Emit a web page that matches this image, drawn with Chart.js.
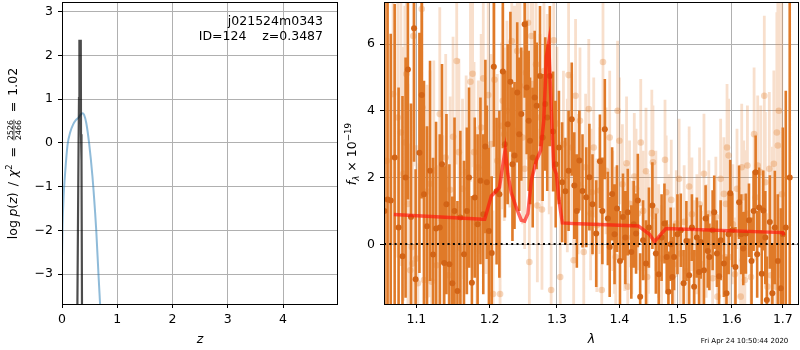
<!DOCTYPE html>
<html>
<head>
<meta charset="utf-8">
<script src="https://cdn.jsdelivr.net/npm/chart.js@4/dist/chart.umd.min.js"></script>
<style>
  html, body { margin: 0; padding: 0; background: #fff; }
  #wrap { position: relative; width: 800px; height: 350px; }
  #pz { position: absolute; left: 0; top: 0; }
  #spec { position: absolute; left: 340px; top: 0; }
</style>
</head>
<body>
<div id="wrap">
  <canvas id="pz" width="340" height="350" style="width:340px;height:350px"></canvas>
  <canvas id="spec" width="460" height="350" style="width:460px;height:350px"></canvas>
</div>
<script>
/* ---------- left panel: p(z) ---------- */
const pzZ    = [0, 0.01, 0.03, 0.05, 0.1, 0.15, 0.2, 0.25, 0.3, 0.34, 0.37, 0.4, 0.44, 0.49, 0.55, 0.6, 0.62, 0.66, 0.69, 0.72];
const pzLogp = [-2.6, -1.9, -1.2, -0.8, -0.05, 0.25, 0.42, 0.52, 0.58, 0.65, 0.68, 0.64, 0.45, 0.0, -0.75, -1.6, -2.0, -3.0, -3.7, -4.3];
const spikeZ    = [0.278, 0.300, 0.308, 0.312, 0.318, 0.340, 0.344, 0.350, 0.356, 0.362];
const spikeLogp = [-3.8, 0.0, 1.05, 0.6, 2.33, 2.33, 0.2, -0.4, -0.4, -3.8];
const zTicks  = [0, 1, 2, 3, 4];
const pzTicks = [-3, -2, -1, 0, 1, 2, 3];

/* ---------- right panel: spectrum ---------- */
const darkWave = [
  1.059, 1.063, 1.067, 1.072, 1.077, 1.082, 1.086, 1.089, 1.093, 1.097,
  1.099, 1.104, 1.107, 1.110, 1.114, 1.118, 1.122, 1.126, 1.131, 1.134,
  1.137, 1.140, 1.144, 1.148, 1.151, 1.155, 1.159, 1.164, 1.168, 1.171,
  1.175, 1.179, 1.183, 1.187, 1.191, 1.194, 1.196, 1.199, 1.203, 1.206,
  1.210, 1.214, 1.219, 1.222, 1.226, 1.230, 1.233, 1.236, 1.240, 1.243,
  1.246, 1.251, 1.254, 1.257, 1.259, 1.263, 1.266, 1.269, 1.274, 1.278,
  1.282, 1.285, 1.289, 1.294, 1.298, 1.303, 1.308, 1.313, 1.318, 1.323,
  1.327, 1.331, 1.335, 1.340, 1.346, 1.351, 1.356, 1.362, 1.368, 1.372,
  1.376, 1.381, 1.384, 1.388, 1.392, 1.396, 1.401, 1.406, 1.410, 1.414,
  1.420, 1.424, 1.428, 1.431, 1.435, 1.440, 1.445, 1.450, 1.456, 1.462,
  1.467, 1.472, 1.477, 1.481, 1.484, 1.488, 1.491, 1.494, 1.500, 1.506,
  1.511, 1.516, 1.521, 1.526, 1.530, 1.535, 1.539, 1.542, 1.548, 1.551,
  1.555, 1.558, 1.564, 1.567, 1.572, 1.576, 1.579, 1.585, 1.590, 1.594,
  1.597, 1.601, 1.607, 1.614, 1.618, 1.622, 1.627, 1.633, 1.638, 1.642,
  1.646, 1.649, 1.653, 1.658, 1.661, 1.665, 1.668, 1.674, 1.679, 1.684,
  1.690, 1.696, 1.700, 1.706, 1.714
];
const darkFlux = [
  1.0, 1.34, 1.31, 2.6, 0.5, -0.36, 2.0, 5.24, 0.82, 6.47,
  -1.05, 2.74, 4.47, 1.5, 0.54, 2.2, -0.31, 0.47, 0.5, 2.4,
  -0.56, 1.2, -0.6, -1.17, 1.0, -1.4, 0.8, -0.3, 1.0, 2.0,
  -1.15, 1.4, 0.6, 1.9, 0.9, 2.93, 1.86, 0.4, -0.26, 5.32,
  1.59, 1.5, 5.18, 3.0, 3.6, 4.87, 2.4, 2.66, 4.55, 3.3,
  3.9, 6.59, 4.7, 3.7, 3.1, 2.6, 4.4, 4.15, 5.04, 3.2,
  4.2, 3.8, 5.04, 3.38, 2.4, 2.9, 1.86, 1.59, 2.2, 3.75,
  1.76, 1.0, 2.51, 1.6, 1.41, 2.01, 1.2, 0.32, 2.49, 1.0,
  3.45, 0.77, -0.08, 1.51, 0.3, 1.07, -0.5, 0.82, 0.2, 0.96,
  -0.23, 0.6, 0.32, 1.31, -1.57, 0.12, -0.58, 0.5, 1.16, -0.28,
  -0.9, 0.2, 0.62, -0.38, -1.42, 0.0, -0.98, -0.38, 0.3, 0.42,
  -1.17, 0.1, -0.93, 0.5, -1.27, 0.2, -0.83, 0.07, -0.78, 0.77,
  -0.2, -0.38, 0.42, 0.96, -0.28, -0.96, 0.12, -0.58, -1.47, 0.3,
  1.53, 0.42, -0.68, 1.26, 0.3, -0.13, 0.32, 0.72, -0.5, 1.0,
  2.16, -0.3, 1.1, -0.88, 1.01, 0.2, -1.67, 0.67, -1.47, 0.5,
  -0.5, -1.32, 0.3, 0.5, 2.0
];
const darkErr = [
  10, 10, 5.0, 4.6, 4.2, 4.8, 3.6, 3.9, 3.4, 4.0,
  3.3, 3.6, 3.1, 3.4, 3.0, 3.3, 2.9, 3.2, 2.8, 3.0,
  2.9, 2.7, 3.0, 2.6, 2.8, 2.7, 2.6, 2.8, 2.5, 2.7,
  2.6, 2.4, 2.7, 2.5, 2.4, 2.6, 2.3, 2.5, 2.3, 2.4,
  2.2, 2.5, 2.3, 2.2, 2.4, 2.1, 2.3, 2.2, 2.1, 2.3,
  2.0, 2.2, 2.0, 2.1, 1.9, 2.1, 2.0, 1.9, 2.1, 1.9,
  2.0, 2.2, 2.1, 1.8, 1.9, 1.7, 1.8, 1.6, 1.8, 1.7,
  1.6, 1.7, 1.5, 1.7, 1.5, 1.6, 1.5, 1.6, 1.4, 1.6,
  1.5, 1.4, 1.5, 1.4, 1.5, 1.3, 1.5, 1.3, 1.4, 1.3,
  1.4, 1.3, 1.2, 1.4, 1.3, 1.2, 1.3, 1.2, 1.3, 1.2,
  1.1, 1.3, 1.2, 1.1, 1.2, 1.1, 1.2, 1.0, 1.2, 1.1,
  1.0, 1.2, 1.1, 1.0, 1.1, 1.2, 1.0, 1.1, 1.2, 1.0,
  1.1, 1.0, 1.2, 1.1, 1.0, 1.1, 1.2, 1.0, 1.1, 1.2,
  1.0, 1.1, 1.2, 1.1, 1.2, 1.1, 1.2, 1.1, 1.3, 1.2,
  1.1, 1.3, 1.2, 1.3, 1.2, 1.4, 1.3, 1.4, 1.5, 1.7,
  2.0, 2.4, 3.2, 4.1, 10
];

const lightWave = [
  1.062, 1.070, 1.076, 1.080, 1.083, 1.085, 1.087, 1.089, 1.092, 1.094,
  1.095, 1.096, 1.100, 1.102, 1.107, 1.108, 1.110, 1.114, 1.118, 1.120,
  1.123, 1.127, 1.131, 1.135, 1.139, 1.143, 1.145, 1.149, 1.154, 1.157,
  1.160, 1.162, 1.167, 1.173, 1.176, 1.178, 1.182, 1.184, 1.188, 1.191,
  1.195, 1.198, 1.202, 1.205, 1.207, 1.211, 1.215, 1.217, 1.219, 1.221,
  1.225, 1.229, 1.232, 1.236, 1.238, 1.240, 1.244, 1.248, 1.251, 1.253,
  1.256, 1.258, 1.261, 1.263, 1.268, 1.270, 1.274, 1.277, 1.280, 1.285,
  1.288, 1.291, 1.295, 1.300, 1.305, 1.310, 1.316, 1.318, 1.323, 1.326,
  1.329, 1.333, 1.336, 1.342, 1.345, 1.350, 1.353, 1.355, 1.358, 1.363,
  1.368, 1.371, 1.373, 1.378, 1.384, 1.389, 1.392, 1.394, 1.397, 1.400,
  1.405, 1.409, 1.412, 1.414, 1.417, 1.421, 1.425, 1.428, 1.431, 1.436,
  1.440, 1.445, 1.447, 1.449, 1.455, 1.457, 1.462, 1.467, 1.472, 1.478,
  1.480, 1.485, 1.489, 1.494, 1.498, 1.503, 1.505, 1.512, 1.517, 1.521,
  1.526, 1.530, 1.535, 1.540, 1.544, 1.548, 1.552, 1.557, 1.564, 1.570,
  1.573, 1.579, 1.585, 1.587, 1.589, 1.591, 1.594, 1.596, 1.602, 1.606,
  1.610, 1.615, 1.617, 1.619, 1.621, 1.623, 1.625, 1.627, 1.630, 1.637,
  1.643, 1.646, 1.650, 1.656, 1.663, 1.665, 1.669, 1.673, 1.676, 1.679,
  1.682, 1.686, 1.688, 1.690, 1.692, 1.698
];
const lightFlux = [
  2.5, 4.5, 3.8, 3.35, 2.11, 3.05, 5.1, 1.21, -0.78, -0.08,
  -0.58, 6.24, -0.43, -1.17, 7.05, 4.1, -1.07, 1.58, 1.81, -1.12,
  2.21, -0.63, 3.9, 0.37, 2.6, -0.93, 1.63, 3.22, 5.49, 2.76,
  -0.13, 1.66, 2.16, 4.87, 5.11, 2.76, 0.62, 2.31, 3.5, 4.97,
  1.71, 4.47, 3.0, -1.49, 4.93, 2.5, -1.49, 3.55, 4.3, 3.3,
  4.0, 3.6, 6.09, 4.55, 3.4, 5.79, 4.75, 3.2, 2.26, 5.14,
  6.64, -0.53, 6.24, 4.8, 5.39, 1.16, 3.8, 1.04, 5.19, 4.5,
  3.2, -1.37, 6.11, 3.62, -0.98, 3.0, 2.06, 5.07, 2.9, -0.48,
  4.45, 1.8, 3.7, -0.23, 2.31, 4.05, 0.92, 1.56, 2.9, 0.57,
  1.61, -1.37, 5.46, 2.2, 3.2, 1.0, 0.42, -0.38, 4.0, 3.1,
  1.8, 0.5, 2.43, -1.27, 1.21, 0.2, 2.03, 1.66, 0.92, 3.05,
  1.0, 2.19, -0.98, 0.32, 2.73, 2.46, 1.0, 0.1, -0.43, 2.53,
  1.56, 0.5, 1.33, -0.6, 0.62, 1.96, -0.28, 0.67, -0.8, 1.73,
  0.9, -0.28, 0.3, 1.2, -0.6, 2.11, 0.1, 0.92, -1.02, 0.82,
  -1.57, 1.96, 1.51, -0.38, 1.21, 2.9, 2.66, -0.38, 0.6, -0.9,
  1.66, 0.3, -1.57, 2.31, -0.48, 1.41, -1.07, 0.92, 2.36, -0.98,
  3.3, 1.41, 2.36, 2.16, 4.45, 1.86, -1.27, 2.26, -0.93, 0.42,
  2.41, -1.27, 3.35, 2.96, 4.0, 1.5
];
const lightErr = [
  8, 4.5, 4.2, 4.0, 3.8, 4.1, 3.9, 3.6, 3.8, 3.5,
  3.7, 3.9, 3.4, 3.6, 3.8, 3.3, 3.5, 3.2, 3.4, 3.1,
  3.3, 3.0, 3.2, 2.9, 3.1, 3.0, 2.8, 3.0, 3.1, 2.8,
  2.9, 2.7, 2.9, 3.0, 2.8, 2.7, 2.9, 2.6, 2.8, 2.9,
  2.6, 2.8, 2.7, 2.5, 2.9, 2.6, 2.7, 2.5, 2.8, 2.6,
  2.7, 2.5, 2.8, 2.6, 2.4, 2.7, 2.5, 2.6, 2.4, 2.6,
  2.7, 2.4, 2.6, 2.5, 2.6, 2.3, 2.5, 2.4, 2.6, 2.4,
  2.3, 2.5, 2.4, 2.3, 2.4, 2.2, 2.3, 2.4, 2.2, 2.1,
  2.3, 2.1, 2.2, 2.0, 2.2, 2.1, 2.0, 1.9, 2.1, 2.0,
  1.9, 2.0, 2.1, 1.9, 2.0, 1.8, 1.9, 2.0, 2.1, 1.9,
  1.8, 1.9, 2.0, 1.8, 1.9, 1.7, 1.9, 1.8, 1.7, 1.9,
  1.8, 1.9, 1.7, 1.8, 1.9, 1.7, 1.8, 1.7, 1.6, 1.8,
  1.7, 1.6, 1.8, 1.7, 1.6, 1.8, 1.6, 1.7, 1.6, 1.8,
  1.7, 1.6, 1.8, 1.7, 1.6, 1.8, 1.7, 1.6, 1.7, 1.8,
  1.7, 1.8, 1.7, 1.6, 1.8, 1.9, 1.7, 1.6, 1.8, 1.7,
  1.8, 1.9, 1.7, 1.9, 1.8, 1.7, 1.8, 1.9, 1.8, 1.9,
  2.0, 1.9, 2.1, 2.0, 2.4, 2.1, 2.2, 2.3, 2.4, 2.5,
  2.8, 3.0, 3.6, 4.5, 5.0, 6.0
];

const modelWave = [1.071, 1.190, 1.193, 1.2025, 1.2094, 1.2141, 1.2224, 1.2262, 1.2311, 1.2384,
                   1.2460, 1.2509, 1.2558, 1.2609, 1.2684, 1.2750, 1.2797, 1.2838, 1.2872, 1.2913,
                   1.2949, 1.2990, 1.3031, 1.3083, 1.3248, 1.4318, 1.4509, 1.4596, 1.4684, 1.4795,
                   1.6997, 1.702];
const modelFlux = [0.89, 0.75, 0.75, 1.45, 1.59, 1.71, 2.83, 2.11, 1.56, 1.11,
                   0.72, 0.69, 0.92, 1.91, 2.51, 2.81, 3.70, 5.64, 6.04, 4.0,
                   2.31, 2.11, 1.31, 0.64, 0.62, 0.55, 0.3, 0.08, 0.25, 0.47,
                   0.35, 0.27];
const lambdaTicks = [1.1, 1.2, 1.3, 1.4, 1.5, 1.6, 1.7];
const fluxTicks = [0, 2, 4, 6];

/* ---------- helpers ---------- */
const FAM = "'DejaVu Sans', sans-serif";
const GRID = '#b0b0b0';
const ORANGE = 'rgb(224,122,40)';
const minus = (v) => String(v).replace('-', '\u2212');
const font = (size, style) => `${style || 'normal'} ${size}px ${FAM}`;

Chart.defaults.font.family = FAM;
Chart.defaults.font.size = 12.5;
Chart.defaults.color = '#000';
Chart.defaults.animation = false;

const xy = (xs, ys) => xs.map((x, i) => ({x, y: ys[i]}));

function errSegments(wave, flux, err) {
  const pts = [];
  wave.forEach((w, i) => {
    pts.push({x: w, y: flux[i] - err[i]}, {x: w, y: flux[i] + err[i]}, {x: w, y: null});
  });
  return pts;
}

// text with mixed fonts, centred on (x, y); vertical = rotated like a y label
function drawRich(ctx, parts, x, y, vertical) {
  ctx.save();
  ctx.translate(x, y);
  if (vertical) ctx.rotate(-Math.PI / 2);
  ctx.fillStyle = '#000';
  ctx.textBaseline = 'alphabetic';
  const widths = parts.map(p => {
    if (p.gap) return p.gap;
    ctx.font = p.font;
    if (p.frac) return Math.max(...p.frac.map(s => ctx.measureText(s).width)) + 2;
    return ctx.measureText(p.t).width;
  });
  let cx = -widths.reduce((a, b) => a + b, 0) / 2;
  parts.forEach((p, i) => {
    const w = widths[i];
    if (p.frac) {
      ctx.font = p.font;
      ctx.textAlign = 'center';
      ctx.fillText(p.frac[0], cx + w / 2, -4.3);
      ctx.fillText(p.frac[1], cx + w / 2, 4.0);
      ctx.fillRect(cx + 0.5, -3.4, w - 1, 0.7);
    } else if (p.t) {
      ctx.font = p.font;
      ctx.textAlign = 'left';
      ctx.fillText(p.t, cx, p.dy || 0);
    }
    cx += w;
  });
  ctx.restore();
}

const frame = {
  id: 'frame',
  afterDraw(chart) {
    const {ctx, chartArea: a} = chart;
    ctx.save();
    ctx.strokeStyle = '#000';
    ctx.lineWidth = 1;
    ctx.strokeRect(Math.round(a.left) + 0.5, Math.round(a.top) + 0.5,
                   Math.round(a.right - a.left) - 1, Math.round(a.bottom - a.top));
    ctx.restore();
  }
};

const fixedTicks = (vals) => (scale) => { scale.ticks = vals.map(v => ({value: v})); };
const fitX = (h) => (s) => { s.height = h; s.paddingLeft = 0; s.paddingRight = 0; };
const fitY = (w) => (s) => { s.width = w; s.paddingTop = 0; s.paddingBottom = 0; };

/* ---------- left chart ---------- */
const pzLabels = {
  id: 'pzLabels',
  afterDraw(chart) {
    const ctx = chart.ctx;
    ctx.save();
    ctx.fillStyle = '#000';
    ctx.font = font(12.5);
    ctx.textAlign = 'right';
    ctx.fillText('j021524m0343', 323, 25);
    ctx.fillText('ID=124    z=0.3487', 323, 39.5);
    ctx.textAlign = 'center';
    ctx.font = font(12.5, 'italic');
    ctx.fillText('z', 200, 343);
    ctx.restore();
    drawRich(ctx, [
      {t: 'log', font: font(12.5)},
      {gap: 3.5},
      {t: 'p', font: font(12.5, 'italic')},
      {t: '(', font: font(12.5)},
      {t: 'z', font: font(12.5, 'italic')},
      {t: ')', font: font(12.5)},
      {gap: 2},
      {t: ' / ', font: font(12.5)},
      {gap: 1},
      {t: 'χ', font: font(12.5, 'italic')},
      {t: '2', font: font(8.5), dy: -5},
      {gap: 3},
      {t: ' = ', font: font(12.5)},
      {gap: 2},
      {frac: ['2526', '2466'], font: font(7.8)},
      {gap: 3},
      {t: ' = ', font: font(12.5)},
      {gap: 2},
      {t: '1.02', font: font(12.5)}
    ], 17, 153.5, true);
  }
};

new Chart(document.getElementById('pz'), {
  type: 'line',
  data: {
    datasets: [
      {
        data: xy(spikeZ, spikeLogp),
        borderColor: 'rgba(0,0,0,0.7)', borderWidth: 2.2,
        pointRadius: 0, tension: 0, order: 0
      },
      {
        data: xy(pzZ, pzLogp),
        borderColor: 'rgba(31,119,180,0.5)', borderWidth: 2,
        pointRadius: 0, cubicInterpolationMode: 'monotone', order: 1
      }
    ]
  },
  options: {
    responsive: false,
    layout: {autoPadding: false, padding: {left: 0, right: 2, top: 2, bottom: 0}},
    plugins: {legend: {display: false}, tooltip: {enabled: false}},
    scales: {
      x: {
        type: 'linear', min: 0, max: 4.995,
        afterBuildTicks: fixedTicks(zTicks),
        afterFit: fitX(46),
        grid: {color: GRID, lineWidth: 1, tickColor: '#000', tickLength: 4},
        border: {display: false},
        ticks: {padding: 4, callback: (v) => minus(v), maxRotation: 0}
      },
      y: {
        type: 'linear', min: -3.68, max: 3.22,
        afterBuildTicks: fixedTicks(pzTicks),
        afterFit: fitY(62),
        grid: {color: GRID, lineWidth: 1, tickColor: '#000', tickLength: 4},
        border: {display: false},
        ticks: {padding: 5, callback: (v) => minus(v)}
      }
    }
  },
  plugins: [frame, pzLabels]
});

/* ---------- right chart ---------- */
const specLabels = {
  id: 'specLabels',
  afterDatasetsDraw(chart) {
    const {ctx, chartArea: a} = chart;
    const y0 = Math.round(chart.scales.y.getPixelForValue(0));
    ctx.save();
    ctx.strokeStyle = '#000';
    ctx.lineWidth = 2;
    ctx.setLineDash([2, 3.3]);
    ctx.beginPath();
    ctx.moveTo(a.left, y0);
    ctx.lineTo(a.right, y0);
    ctx.stroke();
    ctx.restore();
  },
  afterDraw(chart) {
    const ctx = chart.ctx;
    ctx.save();
    ctx.fillStyle = '#000';
    ctx.textAlign = 'center';
    ctx.font = font(12.5, 'italic');
    ctx.fillText('λ', 251.5, 343);
    ctx.textAlign = 'right';
    ctx.font = font(7);
    ctx.fillText('Fri Apr 24 10:50:44 2020', 448.3, 343);
    ctx.restore();
    drawRich(ctx, [
      {t: 'f', font: font(12.5, 'italic')},
      {t: 'λ', font: font(8.75, 'italic'), dy: 3},
      {t: ' × 10', font: font(12.5)},
      {t: '\u221219', font: font(8.75), dy: -4.8}
    ], 16, 154, true);
  }
};

new Chart(document.getElementById('spec'), {
  type: 'line',
  data: {
    datasets: [
      {
        data: xy(modelWave, modelFlux),
        borderColor: 'rgba(255,20,10,0.65)', borderWidth: 3.5,
        pointRadius: 0, tension: 0, order: 0
      },
      {
        data: xy(darkWave, darkFlux), showLine: false,
        pointRadius: 3, pointBorderWidth: 0,
        pointBackgroundColor: 'rgb(210,100,22)', order: 1
      },
      {
        data: errSegments(darkWave, darkFlux, darkErr),
        borderColor: ORANGE, borderWidth: 2.6, borderCapStyle: 'butt',
        pointRadius: 0, spanGaps: false, tension: 0, order: 2
      },
      {
        data: xy(lightWave, lightFlux), showLine: false,
        pointRadius: 3.3, pointBorderWidth: 0,
        pointBackgroundColor: 'rgba(224,122,40,0.3)', order: 3
      },
      {
        data: errSegments(lightWave, lightFlux, lightErr),
        borderColor: 'rgba(224,122,40,0.24)', borderWidth: 2.8, borderCapStyle: 'butt',
        pointRadius: 0, spanGaps: false, tension: 0, order: 4
      }
    ]
  },
  options: {
    responsive: false,
    layout: {autoPadding: false, padding: {left: 0, right: 1, top: 2, bottom: 0}},
    plugins: {legend: {display: false}, tooltip: {enabled: false}},
    scales: {
      x: {
        type: 'logarithmic', min: 1.0585, max: 1.733,
        afterBuildTicks: fixedTicks(lambdaTicks),
        afterFit: fitX(46),
        grid: {color: GRID, lineWidth: 1, tickColor: '#000', tickLength: 4},
        border: {display: false},
        ticks: {padding: 4, maxRotation: 0, autoSkip: false, callback: (v) => Number(v).toFixed(1)}
      },
      y: {
        type: 'linear', min: -1.79, max: 7.26,
        afterBuildTicks: fixedTicks(fluxTicks),
        afterFit: fitY(44),
        grid: {color: GRID, lineWidth: 1, tickColor: '#000', tickLength: 4},
        border: {display: false},
        ticks: {padding: 5, callback: (v) => minus(v)}
      }
    }
  },
  plugins: [frame, specLabels]
});
</script>
</body>
</html>
